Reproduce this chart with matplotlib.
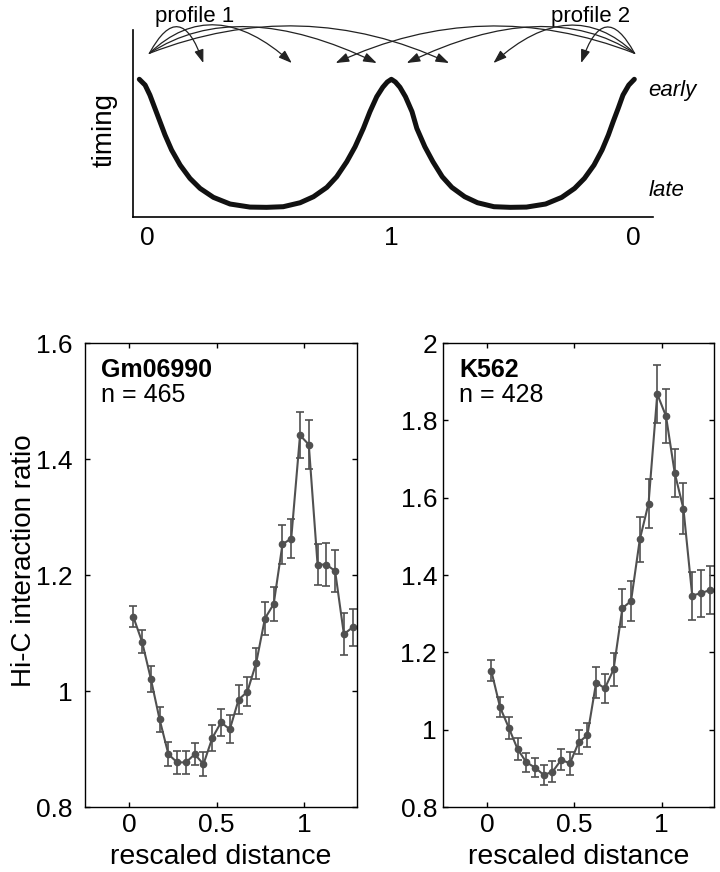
import numpy as np
import matplotlib
matplotlib.use("Agg")
import matplotlib.pyplot as plt

plt.rcParams['font.family'] = ['Liberation Sans', 'DejaVu Sans']

############# DATA

# schematic timing profile (top panel), 0 -> 1 -> 0 rescaled distance
curve_x = [0.000, 0.023, 0.042, 0.062, 0.082, 0.102, 0.128, 0.162, 0.201, 0.241,
           0.294, 0.360, 0.439, 0.505, 0.571, 0.638, 0.691, 0.744, 0.783, 0.823,
           0.856, 0.889, 0.915, 0.942, 0.966, 0.984, 1.000,
           1.016, 1.034, 1.056, 1.082, 1.101, 1.133, 1.165, 1.202, 1.240, 1.291,
           1.342, 1.407, 1.472, 1.536, 1.612, 1.676, 1.727, 1.766, 1.804, 1.836,
           1.861, 1.880, 1.900, 1.919, 1.942, 1.964]
curve_y = [1.000, 0.955, 0.877, 0.773, 0.669, 0.565, 0.448, 0.330, 0.226, 0.148,
           0.078, 0.026, 0.002, 0.000, 0.005, 0.036, 0.083, 0.156, 0.239, 0.356,
           0.473, 0.617, 0.747, 0.864, 0.938, 0.979, 1.000,
           0.979, 0.938, 0.864, 0.747, 0.617, 0.473, 0.356, 0.239, 0.156, 0.083,
           0.036, 0.005, 0.000, 0.002, 0.026, 0.078, 0.148, 0.226, 0.330, 0.448,
           0.565, 0.669, 0.773, 0.877, 0.955, 1.000]

# arrows of the two profiles
p1_start = (0.040, 1.203)
p2_start = (1.965, 1.203)
p1_ends = [0.254, 0.605, 0.942, 1.229]
p2_ends = [1.753, 1.405, 1.061, 0.779]
arrow_end_y = 1.127
p1_angles = [(61.5, 109.0), (43.6, 137.9), (33.2, 154.2), (21.2, 155.0)]
p2_angles = [(118.5, 71.0), (136.4, 42.1), (146.8, 25.8), (158.8, 25.0)]

# Hi-C interaction ratio vs rescaled distance
dist = [0.025, 0.075, 0.125, 0.175, 0.225, 0.275, 0.325, 0.375, 0.425, 0.475,
        0.525, 0.575, 0.625, 0.675, 0.725, 0.775, 0.825, 0.875, 0.925, 0.975,
        1.025, 1.075, 1.125, 1.175, 1.225, 1.275]

gm_ratio = [1.128, 1.085, 1.021, 0.951, 0.891, 0.877, 0.877, 0.891, 0.874, 0.919,
            0.946, 0.934, 0.985, 0.999, 1.048, 1.125, 1.150, 1.253, 1.263, 1.441,
            1.425, 1.218, 1.218, 1.207, 1.098, 1.110]
gm_err = [0.018, 0.020, 0.022, 0.021, 0.021, 0.020, 0.020, 0.019, 0.021, 0.023,
          0.023, 0.024, 0.025, 0.025, 0.027, 0.028, 0.030, 0.034, 0.033, 0.040,
          0.042, 0.035, 0.037, 0.036, 0.036, 0.032]

k_ratio = [1.152, 1.058, 1.005, 0.950, 0.916, 0.902, 0.883, 0.891, 0.922, 0.913,
           0.967, 0.986, 1.122, 1.107, 1.156, 1.314, 1.333, 1.492, 1.585, 1.868,
           1.811, 1.664, 1.571, 1.347, 1.353, 1.361]
k_err = [0.027, 0.026, 0.028, 0.028, 0.025, 0.024, 0.027, 0.027, 0.027, 0.029,
         0.031, 0.032, 0.039, 0.037, 0.042, 0.049, 0.052, 0.059, 0.064, 0.075,
         0.070, 0.063, 0.066, 0.062, 0.061, 0.062]

xticks = [0, 0.5, 1]
xticklabels = ['0', '0.5', '1']
gm_yticks = [0.8, 1.0, 1.2, 1.4, 1.6]
gm_yticklabels = ['0.8', '1', '1.2', '1.4', '1.6']
k_yticks = [0.8, 1.0, 1.2, 1.4, 1.6, 1.8, 2.0]
k_yticklabels = ['0.8', '1', '1.2', '1.4', '1.6', '1.8', '2']

GREY = '#505050'

############# FIGURE

fig = plt.figure(figsize=(7.2, 8.72), dpi=100)

#top schematic
ax0 = fig.add_axes([0.1851, 0.7515, 0.7218, 0.2141])
ax0.plot(curve_x, curve_y, color='#111111', lw=3.6, solid_joinstyle='round',
         solid_capstyle='round')
ax0.set_xlim(-0.024, 2.038)
ax0.set_ylim(-0.073, 1.385)
for s in ['top', 'right']:
    ax0.spines[s].set_visible(False)
for s in ['left', 'bottom']:
    ax0.spines[s].set_linewidth(1.2)
ax0.set_yticks([])
ax0.set_xticks([0.03, 1.0, 1.96])
ax0.set_xticklabels(['0', '1', '0'])
ax0.tick_params(axis='x', length=0, pad=7, labelsize=19)
ax0.set_ylabel('timing', fontsize=20)
ax0.yaxis.set_label_coords(-0.031, 0.464)

ax0.text(2.019, 0.909, 'early', style='italic', fontsize=16, ha='left', va='center')
ax0.text(2.019, 0.135, 'late', style='italic', fontsize=16, ha='left', va='center')
ax0.text(0.221, 1.494, 'profile 1', fontsize=16, ha='center', va='center')
ax0.text(1.792, 1.494, 'profile 2', fontsize=16, ha='center', va='center')

astyle = '-|>,head_length=0.8,head_width=0.28'
for xe, (aA, aB) in zip(p1_ends, p1_angles):
    ax0.annotate('', xy=(xe, arrow_end_y), xytext=p1_start,
                 arrowprops=dict(arrowstyle=astyle, color='#222222', lw=0.9,
                                 shrinkA=0, shrinkB=0,
                                 connectionstyle='angle3,angleA=%g,angleB=%g' % (aA, aB)))
for xe, (aA, aB) in zip(p2_ends, p2_angles):
    ax0.annotate('', xy=(xe, arrow_end_y), xytext=p2_start,
                 arrowprops=dict(arrowstyle=astyle, color='#222222', lw=0.9,
                                 shrinkA=0, shrinkB=0,
                                 connectionstyle='angle3,angleA=%g,angleB=%g' % (aA, aB)))

#bottom panels
def hic_panel(ax, y, err, yticks, yticklabels, ylim, name, n, ypad):
    ax.errorbar(dist, y, yerr=err, color=GREY, lw=1.5, marker='o', ms=4.5,
                elinewidth=1.2, capsize=3, capthick=1.2)
    ax.set_xlim(-0.25, 1.3)
    ax.set_ylim(*ylim)
    ax.set_xticks(xticks)
    ax.set_xticklabels(xticklabels)
    ax.set_yticks(yticks)
    ax.set_yticklabels(yticklabels)
    ax.tick_params(direction='in', top=True, right=True, length=3.5, width=1,
                   labelsize=19)
    ax.tick_params(axis='x', pad=4)
    ax.tick_params(axis='y', pad=ypad)
    for s in ax.spines.values():
        s.set_linewidth(1.0)
    ax.set_xlabel('rescaled distance', fontsize=20.5)
    ax.xaxis.set_label_coords(0.5, -0.08)
    ax.text(0.058, 0.968, name, transform=ax.transAxes, fontsize=18,
            fontweight='bold', ha='left', va='top')
    ax.text(0.058, 0.913, 'n = %d' % n, transform=ax.transAxes, fontsize=18,
            ha='left', va='top')

ax1 = fig.add_axes([0.1181, 0.0745, 0.3778, 0.5321])
hic_panel(ax1, gm_ratio, gm_err, gm_yticks, gm_yticklabels, (0.8, 1.6),
          'Gm06990', 465, 9)
ax1.set_ylabel('Hi-C interaction ratio', fontsize=20)
ax1.yaxis.set_label_coords(-0.176, 0.530)

ax2 = fig.add_axes([0.6157, 0.0745, 0.3760, 0.5321])
hic_panel(ax2, k_ratio, k_err, k_yticks, k_yticklabels, (0.8, 2.0),
          'K562', 428, 4.5)

fig.savefig('out.png', dpi=100)
